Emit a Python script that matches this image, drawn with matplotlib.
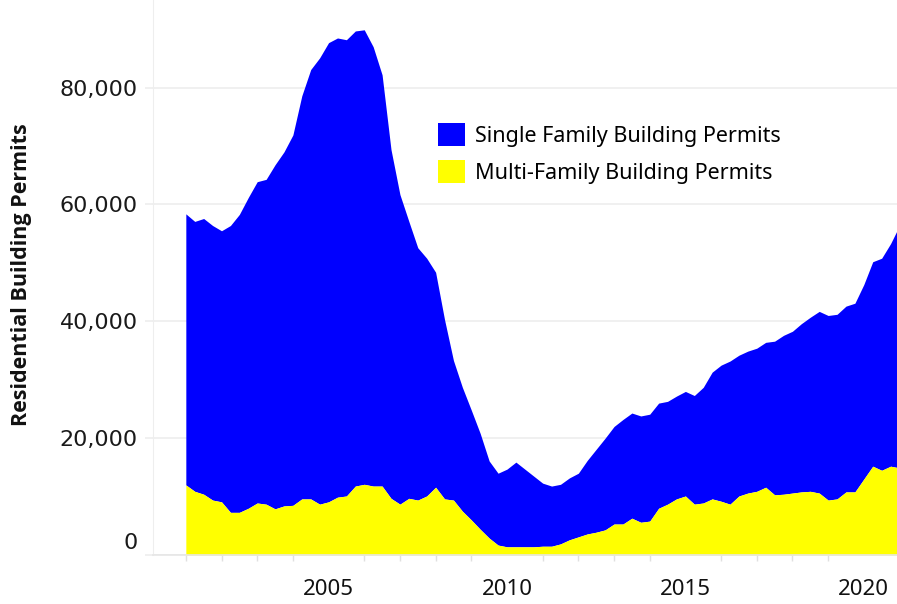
import matplotlib
matplotlib.use("Agg")
import matplotlib.pyplot as plt
import matplotlib.transforms as mtransforms
from matplotlib.patches import Patch
import numpy as np

plt.rcParams['font.family'] = ['Noto Sans', 'DejaVu Sans']

# Quarterly readings, Jan 2001 .. late 2020
dates = [2001.0 + 0.25 * i for i in range(80)] + [2020.92]

multi_family = [12000, 10900, 10400, 9400, 9100, 7300, 7300, 8000, 8900, 8700,
                7900, 8400, 8500, 9600, 9600, 8700, 9100, 9900, 10100, 11800,
                12100, 11800, 11800, 9700, 8700, 9700, 9400, 10100, 11600, 9600,
                9400, 7500, 6000, 4400, 2900, 1700, 1400, 1400, 1400, 1400,
                1500, 1500, 1900, 2600, 3100, 3600, 3900, 4300, 5300, 5300,
                6300, 5600, 5800, 8000, 8700, 9600, 10100, 8700, 8900, 9600,
                9200, 8700, 10100, 10600, 10900, 11600, 10300, 10400, 10600, 10800,
                10900, 10600, 9400, 9600, 10800, 10800, 13000, 15200, 14500, 15200,
                15000]

single_family = [46400, 46200, 47200, 47000, 46400, 49100, 51000, 53200, 55000, 55600,
                 58900, 60600, 63400, 69000, 73500, 76400, 78600, 78600, 78100, 77900,
                 77800, 75200, 70400, 59700, 53000, 47400, 43200, 40700, 36800, 30700,
                 23900, 21200, 18800, 16400, 13200, 12300, 13300, 14500, 13300, 12100,
                 10800, 10300, 10200, 10600, 10900, 12600, 14200, 15700, 16700, 17900,
                 18000, 18200, 18300, 18000, 17600, 17600, 17900, 18600, 19800, 21700,
                 23300, 24500, 24100, 24300, 24500, 24800, 26300, 27200, 27700, 28800,
                 29800, 31100, 31600, 31600, 31800, 32300, 33300, 35000, 36300, 38100,
                 40400]

series_labels = ["Single Family Building Permits", "Multi-Family Building Permits"]
series_colors = ["#0000ff", "#ffff00"]
year_ticks = [2005, 2010, 2015, 2020]
y_ticks = [0, 20000, 40000, 60000, 80000]

fig = plt.figure(figsize=(8.97, 6.04), dpi=100)
ax = fig.add_axes([153/897, 1 - 555/604, 1 - 153/897, 555/604])

x = np.array(dates)
m = np.array(multi_family)
s = np.array(single_family)
ax.fill_between(x, m, m + s, color=series_colors[0], linewidth=0, zorder=2)
ax.fill_between(x, 0, m, color=series_colors[1], linewidth=0, zorder=2)

ax.set_xlim(2000.08, 2020.93)
ax.set_ylim(0, 95000)

ax.set_yticks(y_ticks)
ax.set_yticklabels([f"{v:,}" for v in y_ticks], fontsize=16, color="#1a1a1a",
                   family=['DejaVu Sans'])
ax.set_xticks(year_ticks)
ax.set_xticklabels([str(v) for v in year_ticks], fontsize=16, color="#111111")
ax.set_xticks(list(range(2001, 2021)), minor=True)
ax.tick_params(axis='x', which='major', length=0, pad=17)
ax.tick_params(axis='x', which='minor', length=4, color="#e0e0e0", width=1)
ax.tick_params(axis='y', length=6, color="#eeeeee", width=1.2, pad=5)

# shift the zero label up slightly like the original
lbl0 = ax.get_yticklabels()[0]
lbl0.set_transform(lbl0.get_transform() + mtransforms.ScaledTranslation(0, 14/100, fig.dpi_scale_trans))

ax.grid(axis='y', color="#eeeeee", linewidth=1.2, zorder=0)
ax.set_axisbelow(True)
for sp in ['top', 'right']:
    ax.spines[sp].set_visible(False)
ax.spines['left'].set_color("#eeeeee")
ax.spines['bottom'].set_color("#e6e6e6")
ax.spines['bottom'].set_linewidth(1.2)

fig.text(22/897, 1 - 275/604, "Residential Building Permits", rotation=90,
         ha='center', va='center', fontsize=15.5, fontweight='bold',
         family=['Open Sans', 'DejaVu Sans'], color="#111111")

handles = [Patch(facecolor=c, edgecolor='none') for c in series_colors]
ax.legend(handles, series_labels, loc='upper left',
          bbox_to_anchor=((438 - 153) / 744, 1 - 123 / 555),
          frameon=False, fontsize=15.5, handlelength=1.25, handleheight=1.25,
          handletextpad=0.45, labelspacing=0.62, borderaxespad=0, borderpad=0)

fig.savefig("out.png", dpi=100)
